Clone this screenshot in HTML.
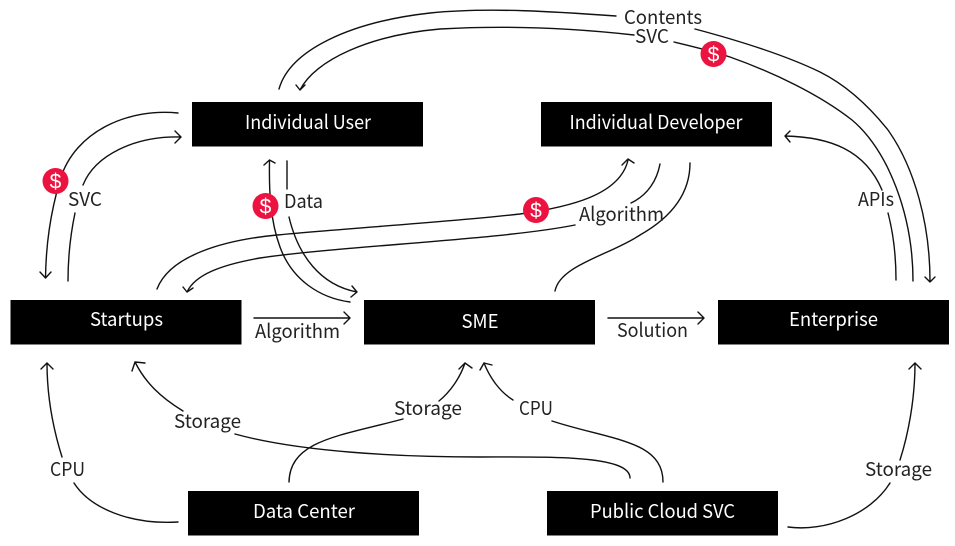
<!DOCTYPE html>
<html><head><meta charset="utf-8"><style>
html,body{margin:0;padding:0;background:#fff}
svg{display:block}
text{font-family:"Noto Sans CJK KR","Liberation Sans",sans-serif;font-size:19px;fill:#222;text-anchor:middle}
.w{fill:#fff}
.d{font-family:"Liberation Sans",sans-serif;font-size:21px;fill:#fff}
path{fill:none;stroke:#111;stroke-width:1.4;stroke-linecap:round;stroke-linejoin:round}
</style></head><body>
<svg width="955" height="546" viewBox="0 0 955 546" xmlns="http://www.w3.org/2000/svg">
<rect width="955" height="546" fill="#fff"/>
<g fill="#000">
<rect x="192" y="102" width="231" height="44.500"/>
<rect x="541" y="102" width="231" height="44.500"/>
<rect x="10.500" y="300" width="231" height="44.500"/>
<rect x="364" y="300" width="231" height="44.500"/>
<rect x="718" y="300" width="231" height="44.500"/>
<rect x="188" y="491" width="231" height="44.500"/>
<rect x="547" y="491" width="231" height="44.500"/>
</g>
<!-- top arcs -->
<path d="M279 89C290 50 350 22 430 13C490 7 560 12 616 16"/>
<path d="M300 90C315 60 370 35 440 29C510 25 580 29 634 35M296 85L300 90L305 85"/>
<path d="M674 42C695 47 712 51 730 57C775 73 820 95 852 120C888 150 913 215 913 281"/>
<path d="M695 29C740 41 785 55 820 72C850 87 872 110 888 130C915 168 930 225 930 281M925 277L930 282L935 277"/>
<!-- left -->
<path d="M178 113C130 108 75 130 60 180C50 215 46 245 45.500 278M40 272L45.500 278L51 272"/>
<path d="M68 281C68 255 71 232 75 213M83 185C95 155 135 136 180 137M175 131L181 137L175 143"/>
<!-- data -->
<path d="M269.500 161C269 190 270 220 280 247C292 280 320 298 350 302M264 165L269.500 160L275 163"/>
<path d="M287 161V189M289 217C298 255 320 285 357 292M351 297L357 292L352 286"/>
<!-- algorithm swoops -->
<path d="M157 289C170 255 225 240 277 235C350 228 450 222 520 214C570 207 620 195 628 160M622 165L628 159L634 163"/>
<path d="M187 292C195 275 220 265 260 258C340 246 500 240 575 225M631 203C648 195 657 180 660 164M183 287L187 292L193 288"/>
<path d="M555 291C560 265 610 255 640 235C670 218 690 195 690 163"/>
<!-- APIs -->
<path d="M896 280C896 255 893 232 888 213M882 190C865 150 830 137 785 136M790 131L785 136L790 142"/>
<!-- straight -->
<path d="M254 318H349M344 312L350 318L344 324"/>
<path d="M608 318H703M698 312L704 318L698 324"/>
<!-- bottom -->
<path d="M62 457C52 425 47 395 47 363M41 369L47 363L53 369"/>
<path d="M74 483C90 508 130 525 178 522"/>
<path d="M183 411C160 397 145 382 135 362M135 362L145 363M135 362L132 371"/>
<path d="M235 434C300 452 400 457 480 457C550 457 630 455 630 478"/>
<path d="M289 482C290 440 340 436 403 419"/>
<path d="M439 401C450 392 460 378 465 363M465 363L459 369M465 363L472 368"/>
<path d="M484 363C490 378 500 392 513 400M484 363L480 370M484 363L492 365"/>
<path d="M552 421C610 440 663 440 663 482"/>
<path d="M915 363C915 400 908 435 900 460M909 369L915 363L921 369"/>
<path d="M890 483C870 515 825 532 788 527"/>
<!-- box labels -->
<g>
<text class="w" x="308" y="129" textLength="126" lengthAdjust="spacingAndGlyphs">Individual User</text>
<text class="w" x="656" y="129" textLength="173" lengthAdjust="spacingAndGlyphs">Individual Developer</text>
<text class="w" x="126.500" y="326" textLength="73" lengthAdjust="spacingAndGlyphs">Startups</text>
<text class="w" x="480" y="328" textLength="37" lengthAdjust="spacingAndGlyphs">SME</text>
<text class="w" x="833.500" y="326" textLength="89" lengthAdjust="spacingAndGlyphs">Enterprise</text>
<text class="w" x="304" y="518" textLength="102" lengthAdjust="spacingAndGlyphs">Data Center</text>
<text class="w" x="662.500" y="518" textLength="145" lengthAdjust="spacingAndGlyphs">Public Cloud SVC</text>
</g>
<!-- edge labels -->
<text x="663" y="24" textLength="78" lengthAdjust="spacingAndGlyphs">Contents</text>
<text x="652" y="43" textLength="34" lengthAdjust="spacingAndGlyphs">SVC</text>
<text x="85" y="206" textLength="34" lengthAdjust="spacingAndGlyphs">SVC</text>
<text x="303.500" y="208" textLength="39" lengthAdjust="spacingAndGlyphs">Data</text>
<text x="621.500" y="221" textLength="85" lengthAdjust="spacingAndGlyphs">Algorithm</text>
<text x="297.500" y="338" textLength="85" lengthAdjust="spacingAndGlyphs">Algorithm</text>
<text x="652.500" y="337" textLength="71" lengthAdjust="spacingAndGlyphs">Solution</text>
<text x="876" y="206" textLength="36" lengthAdjust="spacingAndGlyphs">APIs</text>
<text x="207.500" y="428" textLength="67" lengthAdjust="spacingAndGlyphs">Storage</text>
<text x="428" y="415" textLength="68" lengthAdjust="spacingAndGlyphs">Storage</text>
<text x="536" y="415" textLength="34" lengthAdjust="spacingAndGlyphs">CPU</text>
<text x="67.500" y="476" textLength="35" lengthAdjust="spacingAndGlyphs">CPU</text>
<text x="898.500" y="476" textLength="67" lengthAdjust="spacingAndGlyphs">Storage</text>
<!-- dollars -->
<g fill="#ec1340">
<circle cx="55.500" cy="181" r="13"/>
<circle cx="265.500" cy="206" r="13"/>
<circle cx="536" cy="210" r="13"/>
<circle cx="713.500" cy="54" r="13"/>
</g>
<text class="d" x="55.500" y="188.500">$</text>
<text class="d" x="265.500" y="213.500">$</text>
<text class="d" x="536" y="217.500">$</text>
<text class="d" x="713.500" y="61.500">$</text>
</svg>
</body></html>
